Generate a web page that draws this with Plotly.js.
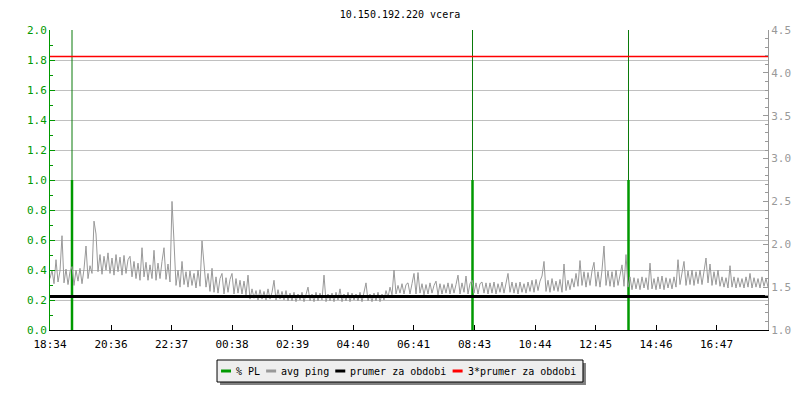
<!DOCTYPE html>
<html>
<head>
<meta charset="utf-8">
<script src="https://cdn.plot.ly/plotly-3.0.1.min.js"></script>
<style>
  html, body { margin: 0; padding: 0; background: #fff; }
  #chart { width: 800px; height: 400px; }
</style>
</head>
<body>
<div id="chart"></div>
<script>
// ---- data (time in minutes after 18:34) ----
const titleText = '10.150.192.220 vcera';
const tickVals = [0, 122, 243, 364, 485, 606, 727, 849, 970, 1091, 1212, 1333];
const tickLabels = ['18:34', '20:36', '22:37', '00:38', '02:39', '04:40', '06:41', '08:43', '10:44', '12:45', '14:46', '16:47'];
const rangeEnd = 1436;
const pingStep = 4; // minutes between ping samples

// avg ping [ms], one sample every 4 minutes
const avgPing = [
  1.60,1.70,1.54,1.82,1.56,1.69,2.10,1.55,1.71,1.53,1.68,1.74,1.52,1.70,1.57,1.72,1.54,1.71,1.98,1.60,
  1.75,1.66,2.27,2.12,1.68,1.88,1.65,1.86,1.70,1.90,1.66,1.84,1.64,1.88,1.68,1.85,1.64,1.87,1.66,1.82,
  1.86,1.62,1.80,1.60,1.78,1.58,1.96,1.62,1.79,1.58,1.76,1.60,1.93,1.58,1.78,1.60,1.80,1.96,1.59,1.77,
  1.56,2.50,2.03,1.52,1.70,1.50,1.80,1.53,1.68,1.50,1.69,1.52,1.66,1.49,1.70,1.51,2.04,1.78,1.50,1.66,
  1.45,1.72,1.44,1.62,1.43,1.60,1.66,1.42,1.61,1.44,1.59,1.66,1.42,1.60,1.43,1.58,1.42,1.57,1.41,1.64,
  1.36,1.48,1.37,1.46,1.35,1.47,1.36,1.45,1.35,1.48,1.36,1.44,1.58,1.35,1.47,1.36,1.45,1.35,1.46,1.34,
  1.43,1.34,1.44,1.33,1.42,1.35,1.44,1.33,1.43,1.50,1.34,1.42,1.33,1.44,1.34,1.43,1.35,1.64,1.33,1.42,
  1.34,1.43,1.33,1.44,1.35,1.48,1.33,1.42,1.34,1.44,1.33,1.43,1.35,1.42,1.34,1.44,1.33,1.43,1.55,1.34,
  1.42,1.33,1.43,1.34,1.44,1.33,1.42,1.35,1.46,1.38,1.50,1.41,1.70,1.42,1.52,1.43,1.54,1.42,1.53,1.55,
  1.42,1.54,1.66,1.42,1.67,1.43,1.54,1.41,1.53,1.42,1.55,1.43,1.52,1.57,1.41,1.54,1.42,1.53,1.43,1.55,
  1.42,1.54,1.43,1.53,1.64,1.42,1.55,1.44,1.63,1.42,1.54,1.58,1.43,1.55,1.42,1.54,1.56,1.43,1.55,1.42,
  1.55,1.43,1.56,1.42,1.54,1.44,1.56,1.43,1.55,1.66,1.44,1.56,1.43,1.55,1.42,1.56,1.44,1.54,1.43,1.56,
  1.45,1.58,1.44,1.59,1.46,1.57,1.63,1.80,1.45,1.58,1.44,1.60,1.46,1.57,1.45,1.59,1.44,1.77,1.46,1.58,
  1.47,1.60,1.50,1.66,1.51,1.81,1.52,1.68,1.50,1.67,1.52,1.69,1.79,1.51,1.68,1.50,1.70,1.98,1.52,1.69,
  1.51,1.68,1.50,1.70,1.52,1.66,1.76,1.51,1.88,1.50,1.62,1.47,1.61,1.48,1.60,1.47,1.62,1.49,1.61,1.47,
  1.78,1.48,1.60,1.47,1.62,1.48,1.63,1.47,1.61,1.49,1.60,1.48,1.62,1.50,1.82,1.53,1.68,1.80,1.52,1.69,
  1.53,1.70,1.52,1.68,1.54,1.70,1.53,1.69,1.84,1.55,1.77,1.52,1.68,1.53,1.70,1.51,1.62,1.50,1.61,1.49,
  1.75,1.50,1.62,1.49,1.61,1.50,1.60,1.49,1.62,1.50,1.66,1.49,1.61,1.50,1.60,1.49,1.62,1.51,1.60,1.50
];

// packet loss events
const plTimes = [44, 845, 1157];
const plValues = [1.0, 1.0, 1.0];
const plAxisTop = 2.0;

// period averages [ms]
const periodAvg = 1.39;
const periodAvg3 = 4.19;

// legend
const legendLabels = ['% PL', 'avg ping', 'prumer za obdobi', '3*prumer za obdobi'];
const legendColors = ['#009900', '#999999', '#000000', '#ff0000'];

// ---- build traces ----
const pingX = avgPing.map((_, i) => i * pingStep);

const plBarX = [], plBarY = [], plMarkX = [], plMarkY = [];
plTimes.forEach((t, i) => {
  plBarX.push(t, t, null); plBarY.push(0, plValues[i], null);
  plMarkX.push(t, t, null); plMarkY.push(0, plAxisTop, null);
});

const GREEN = '#009900';
const FONT = 'DejaVu Sans Mono';

const traces = [
  { x: plMarkX, y: plMarkY, yaxis: 'y', mode: 'lines', line: { color: '#0a7a0a', width: 1 },
    showlegend: false, hoverinfo: 'skip' },
  { x: plBarX, y: plBarY, yaxis: 'y', mode: 'lines', name: legendLabels[0], showlegend: false,
    line: { color: GREEN, width: 2.5 } },
  { x: pingX, y: avgPing, yaxis: 'y2', mode: 'lines', name: legendLabels[1], showlegend: false,
    line: { color: '#999999', width: 1 } },
  { x: [0, rangeEnd], y: [periodAvg, periodAvg], yaxis: 'y2', mode: 'lines', name: legendLabels[2],
    showlegend: false, line: { color: '#000000', width: 3 } },
  { x: [0, rangeEnd], y: [periodAvg3, periodAvg3], yaxis: 'y2', mode: 'lines', name: legendLabels[3],
    showlegend: false, line: { color: '#ff0000', width: 1.5 } }
];

// ---- legend box drawn with shapes + annotations (pixel layout) ----
const LEG_FONT_SIZE = 10;
const measureCtx = document.createElement('canvas').getContext('2d');
measureCtx.font = LEG_FONT_SIZE + 'px "' + FONT + '"';
const textW = s => measureCtx.measureText(s).width;

const plotL = 50, plotT = 30, plotW = 718, plotH = 300;
const px2x = px => (px - plotL) / plotW;
const py2y = py => 1 - (py - plotT) / plotH;
const shapes = [], annotations = [];
const symLen = 10, symGap = 4, itemGap = 7, padL = 4, padR = 8;
const itemsW = legendLabels.reduce((a, s) => a + symLen + symGap + textW(s), 0) + itemGap * (legendLabels.length - 1);
const boxW = padL + itemsW + padR;
const boxL = 400 - boxW / 2, boxR = boxL + boxW, boxT = 360, boxB = 382, rowY = 371;
shapes.push({ type: 'rect', xref: 'paper', yref: 'paper', layer: 'above',
  x0: px2x(boxL + 3), x1: px2x(boxR + 3), y0: py2y(boxB + 3), y1: py2y(boxT + 3),
  fillcolor: '#808080', line: { width: 0 } });
shapes.push({ type: 'rect', xref: 'paper', yref: 'paper', layer: 'above',
  x0: px2x(boxL), x1: px2x(boxR), y0: py2y(boxB), y1: py2y(boxT),
  fillcolor: '#eeeeee', line: { color: '#000000', width: 1 } });
let cx = boxL + padL;
legendLabels.forEach((lab, i) => {
  shapes.push({ type: 'line', xref: 'paper', yref: 'paper', layer: 'above',
    x0: px2x(cx), x1: px2x(cx + symLen), y0: py2y(rowY), y1: py2y(rowY),
    line: { color: legendColors[i], width: 3 } });
  const tx = cx + symLen + symGap;
  annotations.push({ xref: 'paper', yref: 'paper', x: px2x(tx), y: py2y(rowY),
    xanchor: 'left', yanchor: 'middle', showarrow: false, text: lab, borderpad: 0,
    font: { family: FONT, size: LEG_FONT_SIZE, color: '#000' } });
  cx = tx + textW(lab) + itemGap;
});

const layout = {
  width: 800, height: 400,
  margin: { l: 50, r: 32, t: 30, b: 70, pad: 0 },
  paper_bgcolor: '#ffffff', plot_bgcolor: '#ffffff',
  font: { family: FONT, size: 11, color: '#000' },
  title: { text: titleText, x: 0.5, xref: 'container', y: 1 - 14 / 400, yref: 'container',
           yanchor: 'middle', font: { family: FONT, size: 10, color: '#000' } },
  showlegend: false,
  shapes: shapes,
  annotations: annotations,
  xaxis: {
    range: [0, rangeEnd], tickmode: 'array', tickvals: tickVals, ticktext: tickLabels,
    showgrid: false, zeroline: false, showline: true, linecolor: '#000', linewidth: 1,
    ticks: 'inside', ticklen: 5, tickcolor: '#000', tickwidth: 1, ticklabelstandoff: 4,
    tickfont: { family: FONT, size: 11, color: '#000' }, automargin: false, fixedrange: true
  },
  yaxis: {
    range: [0, 2], dtick: 0.2, tick0: 0, tickformat: '.1f',
    showgrid: true, gridcolor: '#c0c0c0', gridwidth: 1, zeroline: false,
    showline: true, linecolor: GREEN, linewidth: 1,
    ticks: 'inside', ticklen: 5, tickcolor: GREEN,
    minor: { dtick: 0.1, ticks: 'inside', ticklen: 3, tickcolor: GREEN, showgrid: false },
    tickfont: { family: FONT, size: 11, color: GREEN }, automargin: false, fixedrange: true
  },
  yaxis2: {
    range: [1, 4.5], dtick: 0.5, tick0: 1, tickformat: '.1f', overlaying: 'y', side: 'right',
    showgrid: false, zeroline: false, showline: true, linecolor: '#999999', linewidth: 1,
    ticks: 'inside', ticklen: 5, tickcolor: '#999999',
    minor: { dtick: 0.1, ticks: 'inside', ticklen: 3, tickcolor: '#999999', showgrid: false },
    tickfont: { family: FONT, size: 11, color: '#999999' }, automargin: false, fixedrange: true
  }
};

Plotly.newPlot('chart', traces, layout, { staticPlot: true, displayModeBar: false });
</script>
</body>
</html>
